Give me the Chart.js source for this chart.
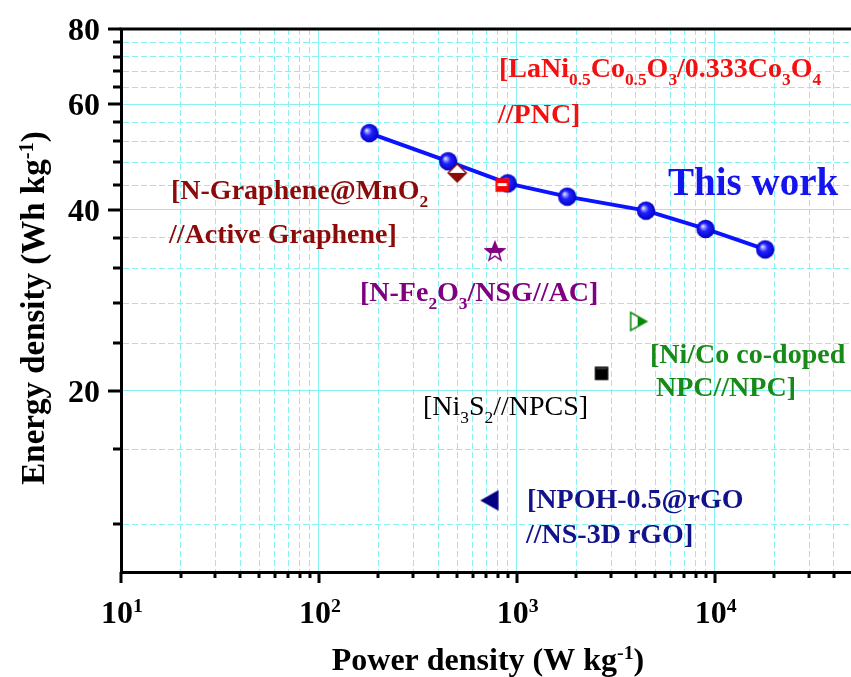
<!DOCTYPE html>
<html>
<head>
<meta charset="utf-8">
<script src="https://cdn.jsdelivr.net/npm/chart.js@4.4.0/dist/chart.umd.min.js"></script>
<style>
  html, body { margin: 0; padding: 0; background: #fff; overflow: hidden; }
  #wrap { width: 870px; height: 677px; }
</style>
</head>
<body>
<div id="wrap"><canvas id="ragone" width="870" height="677"></canvas></div>
<script>
// Ragone plot

// This work
const thisWorkPower = [180, 450, 900, 1800, 4500, 9000, 18000];
const thisWorkEnergy = [53.7, 48.2, 44.3, 42.1, 39.9, 37.2, 34.4];

// literature points
const refLabels = ['N-Graphene@MnO2', 'LaNi0.5Co0.5O3/0.333Co3O4', 'N-Fe2O3/NSG', 'Ni/Co co-doped NPC', 'Ni3S2', 'NPOH-0.5@rGO'];
const refPower = [500, 845, 775, 4130, 2680, 730];
const refEnergy = [46.1, 44.0, 34.2, 26.1, 21.4, 13.15];
const refColors = ['#8b0a0a', '#ff0000', '#800080', '#0a8a0a', '#000000', '#000080'];
const refShapes = ['diamond', 'square', 'star', 'triRight', 'squareFull', 'triLeft'];

// axes
const xMajorTicks = [10, 100, 1000, 10000];
const xMajorLabels = ['10^{1}', '10^{2}', '10^{3}', '10^{4}'];
const xMinorSteps = [2, 3, 4, 5, 6, 7, 8, 9];
const yTicks = [12, 16, 20, 24, 28, 32, 36, 40, 44, 48, 52, 56, 60, 64, 68, 72, 76, 80];
const yMajorTicks = [20, 40, 60, 80];
const yMajorLabels = ['20', '40', '60', '80'];

const xTicks = [];
xMajorTicks.forEach(d => {
    xTicks.push(d);
    xMinorSteps.forEach(s => { if (d * s <= 50000) xTicks.push(d * s); });
});

// annotations (pixel positions on the canvas)
const notes = [
    { text: '[LaNi_{0.5}Co_{0.5}O_{3}/0.333Co_{3}O_{4}', x: 499, y: 77, color: '#f21010' },
    { text: '//PNC]', x: 498, y: 123, color: '#f21010' },
    { text: '[N-Graphene@MnO_{2}', x: 171, y: 199, color: '#8b0a0a' },
    { text: '//Active Graphene]', x: 169, y: 243, color: '#8b0a0a' },
    { text: '[N-Fe_{2}O_{3}/NSG//AC]', x: 360, y: 301, color: '#800080' },
    { text: '[Ni/Co co-doped', x: 650, y: 363, color: '#178a17' },
    { text: 'NPC//NPC]', x: 656, y: 396, color: '#178a17' },
    { text: '[Ni_{3}S_{2}//NPCS]', x: 423, y: 415, color: '#000000', weight: 'normal' },
    { text: '[NPOH-0.5@rGO', x: 527, y: 508, color: '#12128a' },
    { text: '//NS-3D rGO]', x: 526, y: 543, color: '#12128a' }
];

const FONT = '"Liberation Serif", "Times New Roman", serif';

function drawRich(ctx, str, x, y, size, weight, color, align) {
    const parts = [];
    str.split(/([_^]\{[^}]*\})/).forEach(p => {
        if (!p) return;
        if (p[0] === '_' && p[1] === '{') parts.push({ t: p.slice(2, -1), sub: true });
        else if (p[0] === '^' && p[1] === '{') parts.push({ t: p.slice(2, -1), sup: true });
        else parts.push({ t: p });
    });
    const font = s => `${weight} ${s}px ${FONT}`;
    let w = 0;
    parts.forEach(p => {
        p.size = (p.sub || p.sup) ? size * 0.62 : size;
        ctx.font = font(p.size);
        p.w = ctx.measureText(p.t).width;
        w += p.w;
    });
    let cx = align === 'center' ? x - w / 2 : align === 'right' ? x - w : x;
    ctx.fillStyle = color;
    ctx.textAlign = 'left';
    ctx.textBaseline = 'alphabetic';
    parts.forEach(p => {
        ctx.font = font(p.size);
        const dy = p.sub ? size * 0.3 : p.sup ? -size * 0.33 : 0;
        ctx.fillText(p.t, cx, y + dy);
        cx += p.w;
    });
}

// marker images
function makeMarker(shape, color) {
    const c = document.createElement('canvas');
    const s = 22;
    c.width = s; c.height = s;
    const g = c.getContext('2d');
    const m = s / 2;
    g.lineWidth = 1.5;
    g.strokeStyle = color;
    if (shape === 'sphere') {
        const grad = g.createRadialGradient(m - 3, m - 3, 0, m, m, 9.5);
        grad.addColorStop(0, '#ffffff');
        grad.addColorStop(0.18, '#9a9aff');
        grad.addColorStop(0.45, '#2020ff');
        grad.addColorStop(1, '#0000c0');
        g.fillStyle = grad;
        g.beginPath(); g.arc(m, m, 9.2, 0, Math.PI * 2); g.fill();
        return c;
    }
    const path = new Path2D();
    if (shape === 'diamond') {
        path.moveTo(m, m - 9); path.lineTo(m + 9, m); path.lineTo(m, m + 9); path.lineTo(m - 9, m); path.closePath();
    } else if (shape === 'square' || shape === 'squareFull') {
        path.rect(m - 6, m - 6, 12, 12);
    } else if (shape === 'star') {
        for (let i = 0; i < 10; i++) {
            const r = i % 2 === 0 ? 10 : 4.2;
            const a = -Math.PI / 2 + i * Math.PI / 5;
            const px = m + r * Math.cos(a), py = m + 1 + r * Math.sin(a);
            if (i === 0) path.moveTo(px, py); else path.lineTo(px, py);
        }
        path.closePath();
    } else if (shape === 'triRight') {
        path.moveTo(m - 8, m - 9); path.lineTo(m + 8, m); path.lineTo(m - 8, m + 9); path.closePath();
    } else if (shape === 'triLeft') {
        path.moveTo(m + 8, m - 9); path.lineTo(m - 8, m); path.lineTo(m + 8, m + 9); path.closePath();
    }
    g.fillStyle = '#ffffff';
    g.fill(path);
    g.save();
    g.clip(path);
    g.fillStyle = color;
    if (shape === 'diamond') g.fillRect(0, m, s, s);
    else if (shape === 'star') g.fillRect(0, 0, s, m + 2);
    else if (shape === 'triRight') g.fillRect(m - 1, 0, s, s);
    else g.fillRect(0, 0, s, s);
    if (shape === 'square') { g.fillStyle = '#ffffff'; g.fillRect(m - 4.5, m - 2, 9, 3); }
    if (shape === 'squareFull') { g.fillStyle = '#777777'; g.fillRect(0, m - 6, s, 1.5); }
    g.restore();
    g.stroke(path);
    return c;
}

const isMajorX = v => xMajorTicks.includes(v);
const isMajorY = v => yMajorTicks.includes(v);

const decor = {
    id: 'decor',
    afterDraw(chart) {
        const { ctx, chartArea: a, scales: { x, y } } = chart;
        ctx.save();
        ctx.strokeStyle = '#000';
        ctx.lineWidth = 3;
        // top frame
        ctx.beginPath(); ctx.moveTo(a.left - 1.5, a.top); ctx.lineTo(a.right + 2, a.top); ctx.stroke();
        // y tick marks
        yTicks.forEach(v => {
            const py = Math.round(y.getPixelForValue(v));
            const len = isMajorY(v) ? 13 : 8;
            ctx.beginPath(); ctx.moveTo(a.left, py); ctx.lineTo(a.left - len, py); ctx.stroke();
        });
        // x tick marks
        xTicks.forEach(v => {
            const px = Math.round(x.getPixelForValue(v));
            const len = isMajorX(v) ? 11 : 6;
            ctx.beginPath(); ctx.moveTo(px, a.bottom); ctx.lineTo(px, a.bottom + len); ctx.stroke();
        });
        // tick labels
        yMajorTicks.forEach((v, i) => {
            drawRich(ctx, yMajorLabels[i], 100, y.getPixelForValue(v) + 11, 32, 'bold', '#000', 'right');
        });
        xMajorTicks.forEach((v, i) => {
            drawRich(ctx, xMajorLabels[i], x.getPixelForValue(v) + 1, 623, 32, 'bold', '#000', 'center');
        });
        // axis titles
        drawRich(ctx, 'Power density (W kg^{-1})', 488, 670, 32, 'bold', '#000', 'center');
        ctx.save();
        ctx.translate(44, 308);
        ctx.rotate(-Math.PI / 2);
        drawRich(ctx, 'Energy density (Wh kg^{-1})', 0, 0, 33, 'bold', '#000', 'center');
        ctx.restore();
        // annotations
        notes.forEach(n => drawRich(ctx, n.text, n.x, n.y, 28, n.weight || 'bold', n.color, 'left'));
        drawRich(ctx, 'This work', 668, 195, 39, 'bold', '#1414ee', 'left');
        ctx.restore();
    }
};

const gridColor = '#86f2f2';

const refDatasets = refLabels.map((name, i) => ({
    type: 'scatter',
    label: name,
    data: [{ x: refPower[i], y: refEnergy[i] }],
    pointStyle: makeMarker(refShapes[i], refColors[i]),
    pointRadius: 9,
    order: 1
}));

new Chart(document.getElementById('ragone'), {
    type: 'line',
    data: {
        datasets: [
            ...refDatasets,
            {
                label: 'This work',
                data: thisWorkPower.map((p, i) => ({ x: p, y: thisWorkEnergy[i] })),
                borderColor: '#0a14ff',
                borderWidth: 4,
                pointStyle: makeMarker('sphere', '#0000ff'),
                pointRadius: 9,
                fill: false,
                tension: 0,
                order: 2
            }
        ]
    },
    options: {
        responsive: false,
        animation: false,
        devicePixelRatio: 1,
        layout: { padding: { left: 121, top: 29, right: 17, bottom: 105 } },
        plugins: { legend: { display: false }, tooltip: { enabled: false } },
        scales: {
            x: {
                type: 'logarithmic',
                min: 10,
                max: 50000,
                afterBuildTicks: scale => { scale.ticks = xTicks.map(v => ({ value: v, major: isMajorX(v) })); },
                ticks: { display: false },
                grid: { color: gridColor, lineWidth: 1, drawTicks: false },
                border: {
                    display: true, color: '#000', width: 3,
                    dash: ctx => (ctx.tick && !isMajorX(ctx.tick.value)) ? [6, 3] : []
                }
            },
            y: {
                type: 'logarithmic',
                min: 10,
                max: 80,
                afterBuildTicks: scale => { scale.ticks = yTicks.map(v => ({ value: v, major: isMajorY(v) })); },
                ticks: { display: false },
                grid: { color: gridColor, lineWidth: 1, drawTicks: false },
                border: {
                    display: true, color: '#000', width: 3,
                    dash: ctx => (ctx.tick && !isMajorY(ctx.tick.value)) ? [6, 3] : []
                }
            }
        }
    },
    plugins: [decor]
});
</script>
</body>
</html>
